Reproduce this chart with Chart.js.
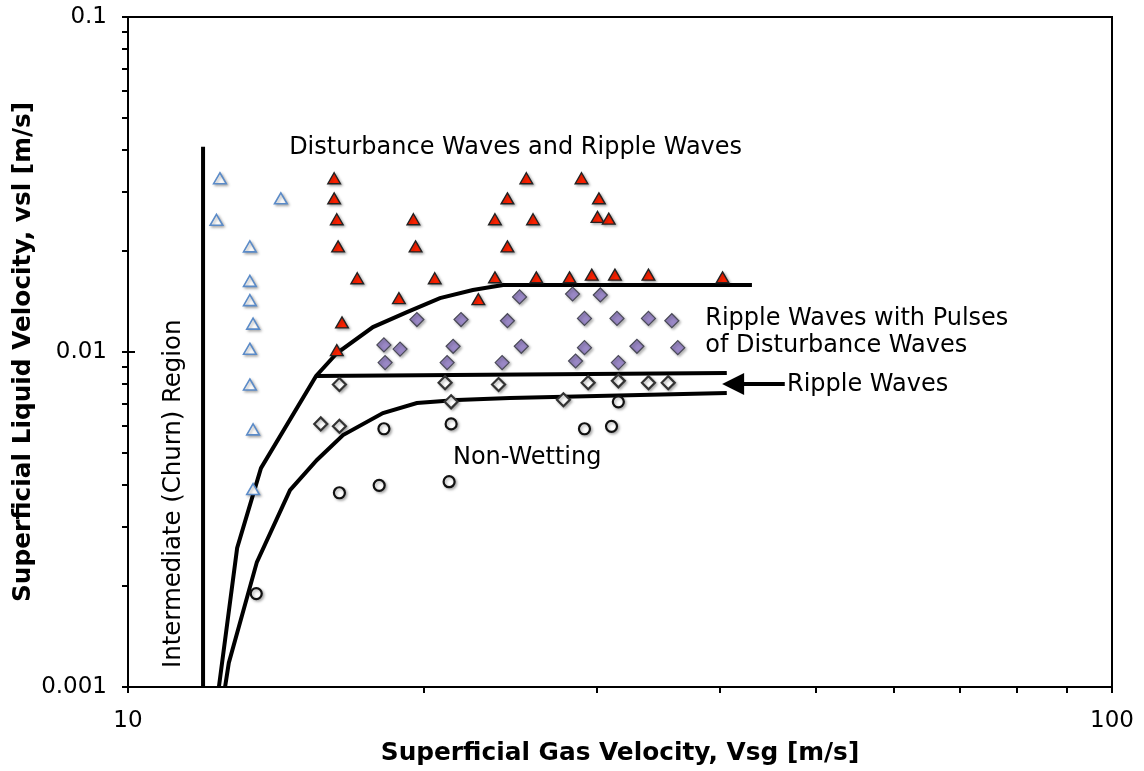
<!DOCTYPE html>
<html>
<head>
<meta charset="utf-8">
<script src="https://cdn.jsdelivr.net/npm/chart.js@4.4.0/dist/chart.umd.min.js"></script>
<style>
    html, body { margin: 0; padding: 0; background: #fff; }
    #wrap { width: 1144px; height: 771px; position: relative; }
</style>
</head>
<body>
<div id="wrap"><canvas id="flowMap"></canvas></div>
<script>
// ============================================
// DATA
// ============================================

// Observed regimes, Vsg [m/s] and vsl [m/s]
const churnVsg = [12.4, 14.3, 12.3, 13.3, 13.3, 13.3, 13.4, 13.3, 13.3, 13.4, 13.4];
const churnVsl = [0.0326, 0.0284, 0.0245, 0.0204, 0.0161, 0.0141, 0.012, 0.0101, 0.0079, 0.0058, 0.00385];

const disturbanceVsg = [16.2, 16.2, 16.3, 16.35, 16.5, 16.3, 17.1, 18.85, 19.5, 19.6, 20.5, 22.7, 23.6, 23.6,
    24.3, 24.3, 25.4, 25.8, 26.0, 28.1, 28.9, 29.6, 30.0, 30.1, 30.8, 31.25, 33.8, 40.2];
const disturbanceVsl = [0.0326, 0.0284, 0.0246, 0.0204, 0.0121, 0.01, 0.0164, 0.0143, 0.0246, 0.0204, 0.0164, 0.0142, 0.0246, 0.0165,
    0.0204, 0.0284, 0.0326, 0.0246, 0.0165, 0.0165, 0.0326, 0.0168, 0.025, 0.0284, 0.0247, 0.0168, 0.0168, 0.0165];

const pulsesVsg = [19.66, 21.8, 24.3, 29.1, 31.4, 33.8, 35.7, 25.0, 28.3, 30.2, 18.2, 18.9, 21.4, 25.1,
    29.1, 32.9, 36.2, 18.25, 21.1, 24.0, 28.5, 31.5];
const pulsesVsl = [0.0125, 0.0125, 0.0124, 0.0126, 0.0126, 0.0126, 0.0124, 0.0146, 0.0149, 0.0148, 0.0105, 0.0102, 0.0104, 0.0104,
    0.0103, 0.0104, 0.0103, 0.0093, 0.0093, 0.0093, 0.0094, 0.0093];

const rippleVsg = [16.4, 15.7, 16.4, 21.0, 23.8, 29.35, 31.5, 33.8, 35.4, 21.3, 27.7];
const rippleVsl = [0.008, 0.0061, 0.006, 0.0081, 0.008, 0.0081, 0.0082, 0.0081, 0.0081, 0.0071, 0.0072];

const dryVsg = [18.2, 21.3, 29.1, 31.0, 31.5, 16.4, 18.0, 21.2, 13.5];
const dryVsl = [0.0059, 0.0061, 0.0059, 0.006, 0.0071, 0.0038, 0.004, 0.0041, 0.0019];

// Regime boundaries
const churnLimitVsg = [11.92, 11.92];
const churnLimitVsl = [0.041, 0.001];

const disturbanceLimitVsg = [12.37, 12.91, 13.65, 15.53, 16.31, 17.74, 19.21, 20.75, 22.41, 24.05, 43.06];
const disturbanceLimitVsl = [0.001, 0.0026, 0.0045, 0.00848, 0.00993, 0.01187, 0.01316, 0.01449, 0.01531, 0.01585, 0.01585];

const rippleLimitVsg = [15.53, 40.6];
const rippleLimitVsl = [0.00848, 0.00866];

const wettingLimitVsg = [12.55, 12.66, 13.52, 14.61, 15.56, 16.54, 18.16, 19.66, 21.6, 24.44, 40.6];
const wettingLimitVsl = [0.001, 0.00118, 0.00236, 0.00387, 0.00476, 0.00565, 0.00657, 0.00704, 0.00719, 0.00729, 0.00754];

// Axis decades (labelled ticks)
const xDecades = [10, 100];
const yDecades = [0.001, 0.01, 0.1];

// Region names, anchored at the start of the baseline
const regionLabels = [
    { text: "Disturbance Waves and Ripple Waves", vsg: 14.58, vsl: 0.039 },
    { text: "Ripple Waves with Pulses", vsg: 38.6, vsl: 0.01204 },
    { text: "of Disturbance Waves", vsg: 38.6, vsl: 0.01 },
    { text: "Ripple Waves", vsg: 46.74, vsl: 0.00765 },
    { text: "Non-Wetting", vsg: 21.39, vsl: 0.00463 },
];
const churnLabel = { text: "Intermediate (Churn) Region", vsg: 11.29, vsl: 0.00114 };
const rippleArrow = { fromVsg: 46.5, toVsg: 40.16, vsl: 0.00802 };

// ============================================
// UTILITIES
// ============================================

const FONT = "Verdana, 'DejaVu Sans', sans-serif";

const toPoints = (xs, ys) => xs.map((x, i) => ({ x, y: ys[i] }));

// 1..9 steps inside each decade, plus the last decade
const decadeTicks = (decades) => {
    const ticks = [];
    decades.forEach((d, i) => {
        if (i === decades.length - 1) {
            ticks.push(d);
            return;
        }
        for (let m = 1; m < 10; m++) ticks.push(+(d * m).toPrecision(3));
    });
    return ticks;
};

const markerSet = (data, style, radius, fill, stroke, width) => ({
    data,
    pointStyle: style,
    pointRadius: radius,
    pointHoverRadius: radius,
    backgroundColor: fill,
    borderColor: stroke,
    pointBorderWidth: width,
    showLine: false,
    order: 0,
    shadow: true,
});

const boundarySet = (data) => ({
    data,
    showLine: true,
    pointRadius: 0,
    borderColor: "#000",
    borderWidth: 4,
    tension: 0,
    order: 1,
});

// ============================================
// PLUGINS
// ============================================

const markerShadow = {
    id: "markerShadow",
    beforeDatasetDraw(chart, args) {
        if (!chart.data.datasets[args.index].shadow) return;
        const ctx = chart.ctx;
        ctx.save();
        ctx.shadowColor = "rgba(0, 0, 0, 0.3)";
        ctx.shadowBlur = 3;
        ctx.shadowOffsetX = 1.5;
        ctx.shadowOffsetY = 1.5;
    },
    afterDatasetDraw(chart, args) {
        if (!chart.data.datasets[args.index].shadow) return;
        chart.ctx.restore();
    },
};

const plotFrame = {
    id: "plotFrame",
    afterDraw(chart) {
        const { ctx, chartArea: a, scales: { x, y } } = chart;
        ctx.save();
        ctx.strokeStyle = "#000";
        ctx.lineWidth = 2;
        ctx.strokeRect(a.left, a.top, a.right - a.left, a.bottom - a.top);
        // decade ticks also cross into the plot
        ctx.beginPath();
        xDecades.forEach((v) => {
            const px = Math.round(x.getPixelForValue(v));
            ctx.moveTo(px, a.bottom);
            ctx.lineTo(px, a.bottom - 7);
        });
        yDecades.forEach((v) => {
            const py = Math.round(y.getPixelForValue(v));
            ctx.moveTo(a.left, py);
            ctx.lineTo(a.left + 7, py);
        });
        ctx.stroke();
        ctx.restore();
    },
};

const regionText = {
    id: "regionText",
    afterDraw(chart) {
        const { ctx, scales: { x, y } } = chart;
        ctx.save();
        ctx.fillStyle = "#000";
        ctx.font = `24px ${FONT}`;
        ctx.textAlign = "left";
        ctx.textBaseline = "alphabetic";
        regionLabels.forEach((l) => {
            ctx.fillText(l.text, x.getPixelForValue(l.vsg), y.getPixelForValue(l.vsl));
        });

        ctx.save();
        ctx.translate(x.getPixelForValue(churnLabel.vsg), y.getPixelForValue(churnLabel.vsl));
        ctx.rotate(-Math.PI / 2);
        ctx.font = `24.4px ${FONT}`;
        ctx.fillText(churnLabel.text, 0, 0);
        ctx.restore();

        // arrow pointing at the ripple band
        const x0 = x.getPixelForValue(rippleArrow.fromVsg);
        const x1 = x.getPixelForValue(rippleArrow.toVsg);
        const ya = y.getPixelForValue(rippleArrow.vsl);
        ctx.strokeStyle = "#000";
        ctx.lineWidth = 4;
        ctx.beginPath();
        ctx.moveTo(x0, ya);
        ctx.lineTo(x1 + 18, ya);
        ctx.stroke();
        ctx.beginPath();
        ctx.moveTo(x1, ya);
        ctx.lineTo(x1 + 22, ya - 11);
        ctx.lineTo(x1 + 22, ya + 11);
        ctx.closePath();
        ctx.fill();
        ctx.restore();
    },
};

// ============================================
// CHART
// ============================================

Chart.defaults.font.family = FONT;
Chart.defaults.color = "#000";

// the plot box is set by layout.padding alone, so label overhang is dropped
const fixedBox = (size) => (scale) => {
    Object.assign(scale, size);
    scale.paddingTop = 0;
    scale.paddingBottom = 0;
    scale.paddingLeft = 0;
    scale.paddingRight = 0;
};

const axisTicks = (decades, size, padding) => ({
    type: "logarithmic",
    min: decades[0],
    max: decades[decades.length - 1],
    afterBuildTicks: (scale) => {
        scale.ticks = decadeTicks(decades).map((v) => ({ value: v }));
    },
    afterFit: fixedBox(size),
    border: { display: false },
    grid: {
        drawOnChartArea: false,
        drawTicks: true,
        tickLength: 6,
        color: "#000",
        lineWidth: 2,
    },
    ticks: {
        autoSkip: false,
        maxRotation: 0,
        padding,
        color: "#000",
        font: { size: 23 },
        callback: (value) => (decades.includes(value) ? String(value) : ""),
    },
});

new Chart(document.getElementById("flowMap"), {
    type: "scatter",
    data: {
        datasets: [
            markerSet(toPoints(dryVsg, dryVsl), "circle", 5.5, "#fff", "#111", 2.2),
            markerSet(toPoints(rippleVsg, rippleVsl), "rectRot", 6.5, "#fff", "#333", 2.2),
            markerSet(toPoints(pulsesVsg, pulsesVsl), "rectRot", 7, "#9a88c6", "#4a4a58", 1.2),
            markerSet(toPoints(disturbanceVsg, disturbanceVsl), "triangle", 7.3, "#ff2200", "#222", 1.4),
            markerSet(toPoints(churnVsg, churnVsl), "triangle", 7.3, "#fff", "#5b8bc8", 1.6),
            boundarySet(toPoints(churnLimitVsg, churnLimitVsl)),
            boundarySet(toPoints(disturbanceLimitVsg, disturbanceLimitVsl)),
            boundarySet(toPoints(rippleLimitVsg, rippleLimitVsl)),
            boundarySet(toPoints(wettingLimitVsg, wettingLimitVsl)),
        ],
    },
    options: {
        responsive: true,
        maintainAspectRatio: false,
        animation: false,
        layout: { padding: { top: 17, right: 32, left: 0, bottom: 0 } },
        plugins: {
            legend: { display: false },
            tooltip: { enabled: false },
        },
        scales: {
            x: {
                ...axisTicks(xDecades, { height: 84 }, 14),
                title: {
                    display: true,
                    text: "Superficial Gas Velocity, Vsg [m/s]",
                    color: "#000",
                    font: { size: 24.8, weight: "bold" },
                    padding: { top: 0, bottom: 3 },
                },
            },
            y: {
                ...axisTicks(yDecades, { width: 128 }, 15),
                title: {
                    display: true,
                    text: "Superficial Liquid Velocity, vsl [m/s]",
                    color: "#000",
                    font: { size: 24.8, weight: "bold" },
                    padding: { top: 9, bottom: 0 },
                },
            },
        },
    },
    plugins: [markerShadow, plotFrame, regionText],
});
</script>
</body>
</html>
